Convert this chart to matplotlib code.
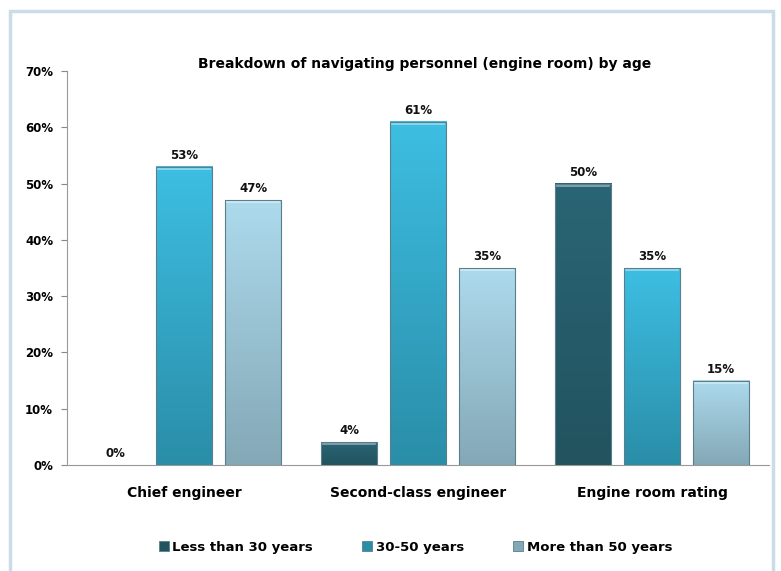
import numpy as np
import matplotlib.pyplot as plt
from matplotlib.patches import Rectangle
from matplotlib.colors import LinearSegmentedColormap

plt.rcParams['font.family'] = ['Liberation Sans Narrow', 'DejaVu Sans']

categories = ['Chief engineer', 'Second-class engineer', 'Engine room rating']
series_names = ['Less than 30 years', '30-50 years', 'More than 50 years']
less_than_30 = [0, 4, 50]
between_30_50 = [53, 61, 35]
more_than_50 = [47, 35, 15]
y_ticks = [0, 10, 20, 30, 40, 50, 60, 70]

series_values = [less_than_30, between_30_50, more_than_50]
# (top colour, bottom colour) per series
series_colors = [('#2a6575', '#22535f'),
                 ('#3dbee2', '#2a8ea8'),
                 ('#acdaec', '#84a8b6')]

fig = plt.figure(figsize=(7.81, 5.71), dpi=100)
ax = fig.add_axes([67 / 781, 1 - 465 / 571, 702 / 781, 394 / 571])

# light frame round the whole chart
fig.patches.append(Rectangle((10 / 781, -0.05), 763 / 781, 1.05 - 11 / 571,
                             transform=fig.transFigure, fill=False,
                             edgecolor='#c9dce7', linewidth=2.5))

bar_width = 0.24
offsets = [-0.295, 0.0, 0.295]
x = np.arange(len(categories))

for values, (top, bottom), off, name in zip(series_values, series_colors, offsets, series_names):
    cmap = LinearSegmentedColormap.from_list(name, [bottom, top])
    bars = ax.bar(x + off, values, width=bar_width, color=top, edgecolor='none',
                  label=name, zorder=2)
    for bar, v in zip(bars, values):
        x0 = bar.get_x()
        w = bar.get_width()
        if v > 0:
            grad = np.linspace(0, 1, 100).reshape(-1, 1)
            ax.imshow(grad, cmap=cmap, origin='lower', aspect='auto',
                      extent=[x0, x0 + w, 0, v], zorder=3)
            # bevel edges
            ax.add_patch(Rectangle((x0, 0), w, v, fill=False,
                                   edgecolor='#5a7f8a', linewidth=0.8, zorder=4))
            ax.plot([x0 + 0.01, x0 + w - 0.01], [v - 0.35, v - 0.35],
                    color='white', alpha=0.45, linewidth=1.2, zorder=5)
        ax.text(x0 + w / 2, v + 0.9, f'{v}%', ha='center', va='bottom',
                fontsize=8.5, fontweight='bold', color='#111111', zorder=6)

ax.set_xlim(-0.5, 2.5)
ax.set_ylim(0, 70)
ax.set_yticks(y_ticks)
ax.set_yticklabels([f'{t}%' for t in y_ticks], fontsize=8.5, fontweight='bold')
ax.set_xticks(x)
ax.set_xticklabels(categories, fontsize=10, fontweight='bold')
ax.tick_params(axis='x', length=0, pad=15)
ax.tick_params(axis='y', length=4, color='#888888', pad=6, direction='out')

for side in ['top', 'right']:
    ax.spines[side].set_visible(False)
ax.spines['left'].set_color('#999999')
ax.spines['bottom'].set_color('#999999')

ax.set_title('Breakdown of navigating personnel (engine room) by age',
             fontsize=10, fontweight='bold', pad=2, x=0.51)

handles = [Rectangle((0, 0), 1, 1, facecolor=c[1], edgecolor='#5a7f8a', linewidth=0.6)
           for c in series_colors]
fig.legend(handles, series_names, loc='center', bbox_to_anchor=(0.532, 1 - 547 / 571),
           ncol=3, frameon=False, prop={'weight': 'bold', 'size': 9.5},
           handlelength=0.75, handleheight=0.75, columnspacing=3.7, handletextpad=0.3)

fig.savefig('out.png', dpi=100)
